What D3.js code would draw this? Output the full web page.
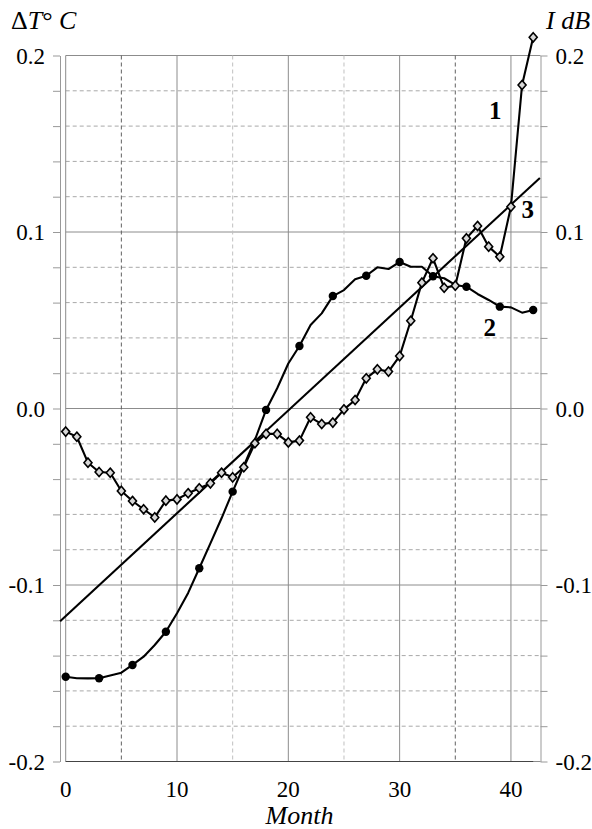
<!DOCTYPE html>
<html>
<head>
<meta charset="utf-8">
<script src="https://cdn.jsdelivr.net/npm/d3@7/dist/d3.min.js"></script>
<style>
  html, body { margin: 0; padding: 0; background: #fff; }
  svg { display: block; }
  text { font-family: "Liberation Serif", "Times New Roman", serif; fill: #000; }
</style>
</head>
<body>
<svg id="chart" width="592" height="829"></svg>
<script>
// Months 0..42
const months = d3.range(0, 43);

// Curve 1: ΔT (open diamonds, every month)
const series1 = [
  -0.0131, -0.0160, -0.0307, -0.0360, -0.0364, -0.0467, -0.0524, -0.0571, -0.0617, -0.0522,
  -0.0515, -0.0480, -0.0452, -0.0424, -0.0364, -0.0390, -0.0333, -0.0197, -0.0144, -0.0144,
  -0.0192, -0.0182, -0.0050, -0.0088, -0.0080, -0.0005, 0.0048, 0.0171, 0.0222, 0.0209,
  0.0297, 0.0497, 0.0713, 0.0851, 0.0684, 0.0696, 0.0964, 0.1034, 0.0917, 0.0860,
  0.1143, 0.1833, 0.2103
];

// Curve 2: I dB (line through every month, filled circles every third month)
const series2 = [
  -0.1520, -0.1528, -0.1529, -0.1528, -0.1513, -0.1497, -0.1453, -0.1406, -0.1340, -0.1265,
  -0.1160, -0.1045, -0.0905, -0.0764, -0.0622, -0.0471, -0.0325, -0.0178, -0.0008, 0.0115,
  0.0255, 0.0354, 0.0473, 0.0539, 0.0637, 0.0671, 0.0732, 0.0752, 0.0800, 0.0790,
  0.0830, 0.0803, 0.0803, 0.0749, 0.0738, 0.0700, 0.0690, 0.0649, 0.0615, 0.0577,
  0.0573, 0.0543, 0.0558
];
const series2MarkStep = 3;

// Curve 3: linear trend, end points
const trendMonths = [-0.5, 42.6];
const trendValues = [-0.1205, 0.1306];

// Curve number labels
const curveLabels = ["1", "2", "3"];
const curveLabelMonths = [38.6, 38.1, 41.5];
const curveLabelValues = [0.164, 0.041, 0.108];

// Axis ticks
const xTickLabels = [0, 10, 20, 30, 40];
const yTickLabels = [-0.2, -0.1, 0.0, 0.1, 0.2];

const svg = d3.select("#chart");

const x = d3.scaleLinear().domain([0, 42]).range([65.7, 533.2]);
const y = d3.scaleLinear().domain([-0.2, 0.2]).range([761.5, 55.5]);

const leftAxisX = 60;
const rightAxisX = 540.5;

// Grid: horizontal lines every 0.02, solid at tenths
const yMinor = d3.range(-10, 11).map(i => i * 0.02);
const isTenth = v => Math.abs(Math.round(v * 10) - v * 10) < 1e-6;

const grid = svg.append("g");
grid.selectAll("line.h")
  .data(yMinor)
  .join("line")
  .attr("x1", x(0)).attr("x2", rightAxisX)
  .attr("y1", d => y(d)).attr("y2", d => y(d))
  .attr("stroke", d => isTenth(d) ? "#8c8c8c" : "#a8a8a8")
  .attr("stroke-width", 1)
  .attr("stroke-dasharray", d => isTenth(d) ? null : "4,3");

// Vertical lines every 5 months
const xGrid = d3.range(0, 45, 5).filter(m => m <= 42);
grid.selectAll("line.v")
  .data(xGrid)
  .join("line")
  .attr("x1", d => x(d)).attr("x2", d => x(d))
  .attr("y1", y(0.2)).attr("y2", y(-0.2))
  .attr("stroke", d => d % 10 === 0 ? "#8c8c8c" : (d === 5 || d === 35 ? "#606060" : "#c0c0c0"))
  .attr("stroke-width", 1)
  .attr("stroke-dasharray", d => d % 10 === 0 ? null : "4,3");

// Bottom frame line
svg.append("line")
  .attr("x1", x(0)).attr("x2", x(42))
  .attr("y1", y(-0.2)).attr("y2", y(-0.2))
  .attr("stroke", "#444").attr("stroke-width", 1.2);

// Y axes (left: ΔT, right: I dB)
const fmt = v => (Math.abs(v) < 1e-9 ? 0 : v).toFixed(1);
const tickFmt = v => isTenth(v) ? fmt(v) : "";

const leftAxis = d3.axisLeft(y).tickValues(yMinor).tickFormat(tickFmt)
  .tickSize(7).tickSizeOuter(0).tickPadding(8);
const rightAxis = d3.axisRight(y).tickValues(yMinor).tickFormat(tickFmt)
  .tickSize(7).tickSizeOuter(0).tickPadding(8);

function styleAxis(g) {
  g.select(".domain").attr("stroke", "#999").attr("stroke-width", 1);
  g.selectAll(".tick line").attr("stroke", "#999").attr("stroke-width", 1);
  g.selectAll(".tick text")
    .attr("font-family", "Liberation Serif, Times New Roman, serif")
    .attr("font-size", 23).attr("fill", "#000").attr("dy", "0.33em");
}

svg.append("g").attr("transform", `translate(${leftAxisX},0)`).call(leftAxis).call(styleAxis);
svg.append("g").attr("transform", `translate(${rightAxisX},0)`).call(rightAxis).call(styleAxis);

// X axis labels
svg.append("g").selectAll("text")
  .data(xTickLabels)
  .join("text")
  .attr("x", d => x(d))
  .attr("y", 797)
  .attr("text-anchor", "middle")
  .attr("font-size", 23)
  .text(d => d);

svg.append("text")
  .attr("x", x(21))
  .attr("y", 824)
  .attr("text-anchor", "middle")
  .attr("font-size", 26)
  .attr("font-style", "italic")
  .text("Month");

// Axis titles
const tL = svg.append("text").attr("x", 11).attr("y", 29).attr("font-size", 26);
tL.append("tspan").text("Δ");
tL.append("tspan").attr("font-style", "italic").text("T");
tL.append("tspan").text("°");
tL.append("tspan").attr("font-style", "italic").text(" C");

svg.append("text")
  .attr("x", 546).attr("y", 29)
  .attr("font-size", 26).attr("font-style", "italic")
  .text("I dB");

// Trend line
const line = d3.line().x(d => x(d[0])).y(d => y(d[1]));
svg.append("path")
  .datum(d3.zip(trendMonths, trendValues))
  .attr("d", line)
  .attr("fill", "none").attr("stroke", "#000").attr("stroke-width", 2.1);

// Curve 2
const pts2 = d3.zip(months, series2);
svg.append("path")
  .datum(pts2)
  .attr("d", line)
  .attr("fill", "none").attr("stroke", "#000").attr("stroke-width", 2.1)
  .attr("stroke-linejoin", "round");
svg.append("g").selectAll("circle")
  .data(pts2.filter(d => d[0] % series2MarkStep === 0))
  .join("circle")
  .attr("cx", d => x(d[0])).attr("cy", d => y(d[1]))
  .attr("r", 4.2).attr("fill", "#000");

// Curve 1
const pts1 = d3.zip(months, series1);
svg.append("path")
  .datum(pts1)
  .attr("d", line)
  .attr("fill", "none").attr("stroke", "#000").attr("stroke-width", 2.1)
  .attr("stroke-linejoin", "round");
const diamond = "M0,-4.6L4,0L0,4.6L-4,0Z";
svg.append("g").selectAll("path")
  .data(pts1)
  .join("path")
  .attr("transform", d => `translate(${x(d[0])},${y(d[1])})`)
  .attr("d", diamond)
  .attr("fill", "#d8d8d8").attr("stroke", "#000").attr("stroke-width", 1.6);

// Curve numbers
svg.append("g").selectAll("text")
  .data(d3.zip(curveLabels, curveLabelMonths, curveLabelValues))
  .join("text")
  .attr("x", d => x(d[1])).attr("y", d => y(d[2]))
  .attr("text-anchor", "middle")
  .attr("font-size", 25).attr("font-weight", "bold")
  .text(d => d[0]);
</script>
</body>
</html>
